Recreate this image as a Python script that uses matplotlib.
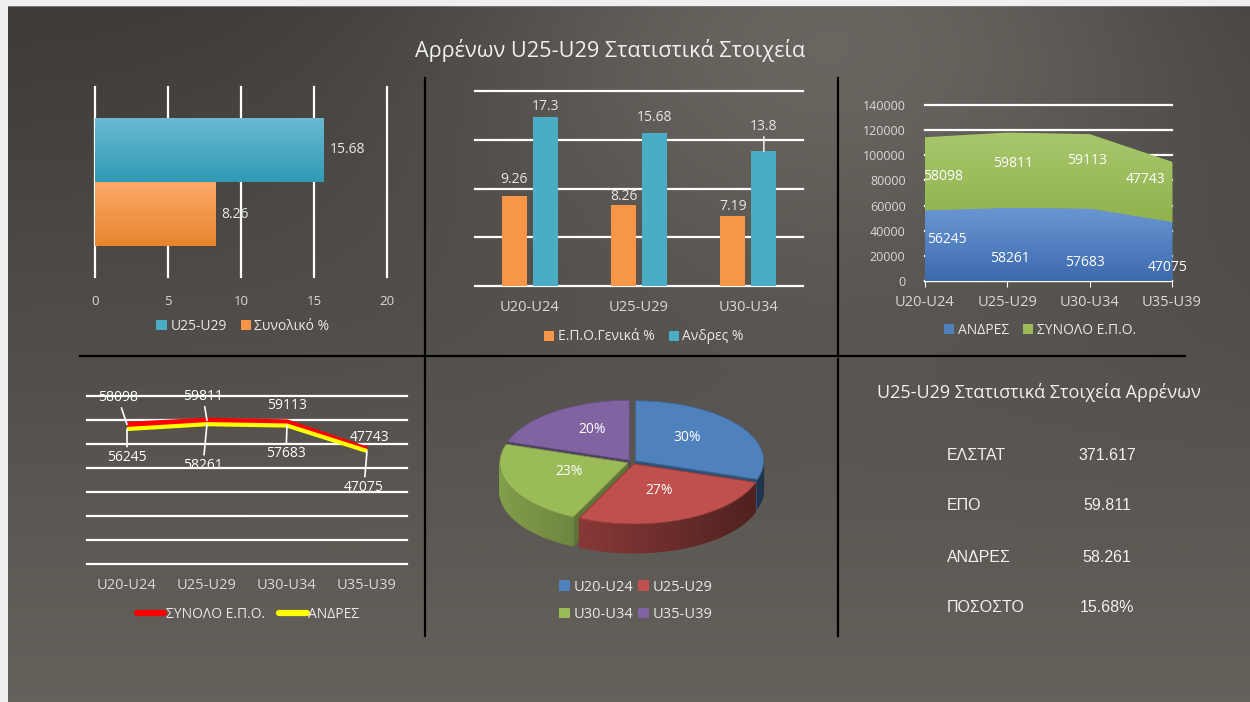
import numpy as np
import matplotlib
matplotlib.use("Agg")
import matplotlib.pyplot as plt
from matplotlib.patches import Patch, Polygon
from matplotlib.lines import Line2D

plt.rcParams['font.family'] = ['Open Sans', 'DejaVu Sans']

# ---------------- data ----------------
title = "Αρρένων U25-U29 Στατιστικά Στοιχεία"

# chart 1 (horizontal bars)
c1_series = ["U25-U29", "Συνολικό %"]
c1_values = [15.68, 8.26]

# chart 2 (grouped columns)
c2_categories = ["U20-U24", "U25-U29", "U30-U34"]
c2_series = ["Ε.Π.Ο.Γενικά %", "Ανδρες %"]
c2_epo = [9.26, 8.26, 7.19]
c2_andres = [17.3, 15.68, 13.8]

# chart 3 (stacked area) & chart 4 (lines)
age_groups = ["U20-U24", "U25-U29", "U30-U34", "U35-U39"]
andres = [56245, 58261, 57683, 47075]
synolo_epo = [58098, 59811, 59113, 47743]
c3_series = ["ΑΝΔΡΕΣ", "ΣΥΝΟΛΟ Ε.Π.Ο."]
c4_series = ["ΣΥΝΟΛΟ Ε.Π.Ο.", "ΑΝΔΡΕΣ"]

# chart 5 (pie)
pie_labels = ["U20-U24", "U25-U29", "U30-U34", "U35-U39"]
pie_values = [30, 27, 23, 20]

# panel 6 (table)
t6_title = "U25-U29 Στατιστικά Στοιχεία Αρρένων"
t6_labels = ["ΕΛΣΤΑΤ", "ΕΠΟ", "ΑΝΔΡΕΣ", "ΠΟΣΟΣΤΟ"]
t6_values = ["371.617", "59.811", "58.261", "15.68%"]

# ---------------- styling ----------------
W, H = 1250, 702
TXT = "#e8e8e8"
TICK = "#d9d9d9"
AQUA = "#4bacc6"
ORANGE = "#f79646"
BLUE = "#4f81bd"
RED = "#c0504d"
GREEN = "#9bbb59"
PURPLE = "#8064a2"

fig = plt.figure(figsize=(12.5, 7.02), dpi=100)

# background
bg = fig.add_axes([0, 0, 1, 1])
bg.set_axis_off()
yy, xx = np.mgrid[0:H, 0:W]
L = 0.24 + 0.16 * (yy / H) + 0.17 * np.exp(-(((xx - 830) / 380.0) ** 2 + (yy / 260.0) ** 2))
img = np.dstack([L * 1.0, L * 0.955, L * 0.9])
img[:6, :, :] = 0.94
img[:, :8, :] = 0.94
img[6, 8:, :] = 0.47
bg.imshow(np.clip(img, 0, 1), extent=[0, W, H, 0], aspect='auto', interpolation='bilinear')
bg.set_xlim(0, W)
bg.set_ylim(H, 0)

# divider lines
bg.plot([425, 425], [78, 636], color="black", lw=1.6)
bg.plot([838, 838], [78, 354], color="black", lw=1.6)
bg.plot([838, 838], [359, 636], color="black", lw=1.6)
bg.plot([80, 1185], [356, 356], color="black", lw=1.6)

bg.text(610, 51, title, ha="center", va="center", fontsize=15.6, color="#f0f0f0")


def axes_px(x0, y0, x1, y1):
    ax = fig.add_axes([x0 / W, 1 - y1 / H, (x1 - x0) / W, (y1 - y0) / H])
    ax.patch.set_alpha(0)
    for s in ax.spines.values():
        s.set_visible(False)
    return ax


def legend_px(handles, labels, x, y, **kw):
    opts = dict(loc="center", bbox_to_anchor=(x / W, 1 - y / H), frameon=False,
                fontsize=10, labelcolor=TXT, handletextpad=0.25, borderaxespad=0,
                borderpad=0)
    opts.update(kw)
    return fig.legend(handles, labels, **opts)


def gradient_patch(ax, patch, ctop, cbot, zorder=3):
    x, y = patch.get_x(), patch.get_y()
    w, h = patch.get_width(), patch.get_height()
    c0 = np.array(matplotlib.colors.to_rgb(ctop))
    c1 = np.array(matplotlib.colors.to_rgb(cbot))
    t = np.linspace(0, 1, 64)[:, None]
    grad = (c0 * (1 - t) + c1 * t)[:, None, :]
    im = ax.imshow(grad, extent=[x, x + w, y, y + h], origin="upper",
                   aspect="auto", zorder=zorder, interpolation="bilinear")
    im.set_clip_path(patch)


# ---------------- chart 1 ----------------
ax1 = axes_px(95, 87, 387, 277)
ax1.set_xlim(0, 20)
ax1.set_ylim(-1, 1)
ax1.set_xticks([0, 5, 10, 15, 20])
ax1.set_yticks([])
ax1.grid(axis="x", color="white", lw=1.6)
for gl in ax1.get_xgridlines():
    gl.set_clip_on(False)
ax1.set_axisbelow(True)
ax1.tick_params(length=0, labelcolor=TICK, labelsize=9.5, pad=13)
bh = 0.674
c1_colors = [(AQUA, "#6bbad3", "#2f9bb6"), (ORANGE, "#fba96a", "#e7852c")]
for i, (v, (c, ct, cb)) in enumerate(zip(c1_values, c1_colors)):
    yc = bh / 2 if i == 0 else -bh / 2
    rect = ax1.barh([yc], [v], height=bh, color=c, zorder=2)[0]
    gradient_patch(ax1, rect, ct, cb)
    ax1.annotate(str(v), xy=(v, yc), xytext=(6, 0), textcoords="offset pixels",
                 ha="left", va="center", fontsize=10, color=TXT)
legend_px([Patch(facecolor=AQUA), Patch(facecolor=ORANGE)], c1_series, 243, 326,
          ncol=2, handlelength=0.75, handleheight=0.75, columnspacing=1.0)

# ---------------- chart 2 ----------------
ax2 = axes_px(475, 91, 803, 286)
ax2.set_ylim(0, 20)
ax2.set_xlim(-0.5, 2.5)
ax2.set_yticks([0, 5, 10, 15, 20])
ax2.set_yticklabels([])
ax2.grid(axis="y", color="white", lw=1.6)
for gl in ax2.get_ygridlines():
    gl.set_clip_on(False)
ax2.set_axisbelow(True)
x2 = np.arange(len(c2_categories))
ax2.set_xticks(x2)
ax2.set_xticklabels(c2_categories)
ax2.tick_params(length=0, labelcolor=TICK, labelsize=10.5, pad=10)
bw, off = 0.23, 0.142
lab_off_epo = [16, 9, 9]
lab_off_and = [11, 16, 25]
ax2.bar(x2 - off, c2_epo, width=bw, color=ORANGE, zorder=2)
ax2.bar(x2 + off, c2_andres, width=bw, color=AQUA, zorder=2)
for xs, vals, offs in [(x2 - off, c2_epo, lab_off_epo), (x2 + off, c2_andres, lab_off_and)]:
    for xv, v, o in zip(xs, vals, offs):
        ap = dict(arrowstyle="-", color="white", lw=1, shrinkA=0, shrinkB=0) if o > 20 else None
        ax2.annotate(str(v), xy=(xv, v), xytext=(0, o), textcoords="offset pixels",
                     ha="center", va="center", fontsize=10, color=TXT, arrowprops=ap)
legend_px([Patch(facecolor=ORANGE), Patch(facecolor=AQUA)], c2_series, 644, 337,
          ncol=2, handlelength=0.75, handleheight=0.75, columnspacing=1.0)

# ---------------- chart 3 ----------------
ax3 = axes_px(925, 105, 1172, 281)
ax3.set_ylim(0, 140000)
ax3.set_xlim(0, 3)
ax3.set_yticks(np.arange(0, 140001, 20000))
ax3.grid(axis="y", color="white", lw=1.6)
for gl in ax3.get_ygridlines():
    gl.set_clip_on(False)
ax3.set_axisbelow(True)
x3 = np.arange(len(age_groups))
ax3.set_xticks(x3)
ax3.set_xticklabels(age_groups)
ax3.spines["bottom"].set_visible(True)
ax3.spines["bottom"].set_color("white")
ax3.spines["bottom"].set_linewidth(1.6)
ax3.tick_params(axis="x", length=4, color="white", labelcolor=TICK, labelsize=10.5, pad=6)
ax3.tick_params(axis="y", length=0, labelcolor=TICK, labelsize=9, pad=14)
a = np.array(andres)
s = np.array(synolo_epo)
f1 = ax3.fill_between(x3, 0, a, color=BLUE, lw=0, zorder=2)
f2 = ax3.fill_between(x3, a, a + s, color=GREEN, lw=0, zorder=2)
for fc, ctop, cbot in [(f1, "#6a97d3", "#3c6aae"), (f2, "#a8c76c", "#92b24f")]:
    t = np.linspace(0, 1, 64)[:, None]
    c0 = np.array(matplotlib.colors.to_rgb(ctop))
    c1 = np.array(matplotlib.colors.to_rgb(cbot))
    grad = (c0 * (1 - t) + c1 * t)[:, None, :]
    ext = fc.get_paths()[0].get_extents()
    im = ax3.imshow(grad, extent=[0, 3, ext.y0, ext.y1], origin="upper", aspect="auto",
                    zorder=3, interpolation="bilinear")
    im.set_clip_path(fc.get_paths()[0], ax3.transData)
ax3.set_ylim(0, 140000)
ax3.set_xlim(0, 3)
g_dx = [18, 6, -3, -26]
g_dy = [3, -7, -11, -12]
b_dx = [22, 3, -5, -4]
b_dy = [-6, 14, 18, 16]
for i in range(len(age_groups)):
    ax3.annotate(str(synolo_epo[i]), xy=(x3[i], a[i] + s[i] / 2), xytext=(g_dx[i], -g_dy[i]),
                 textcoords="offset pixels", ha="center", va="center", fontsize=10,
                 color="white", zorder=5)
    ax3.annotate(str(andres[i]), xy=(x3[i], a[i] / 2), xytext=(b_dx[i], -b_dy[i]),
                 textcoords="offset pixels", ha="center", va="center", fontsize=10,
                 color="white", zorder=5)
legend_px([Patch(facecolor=BLUE), Patch(facecolor=GREEN)], c3_series, 1040, 330,
          ncol=2, handlelength=0.75, handleheight=0.75, columnspacing=1.0)

# ---------------- chart 4 ----------------
ax4 = axes_px(87, 396, 407, 564)
ax4.set_ylim(0, 70000)
ax4.set_xlim(-0.5, 3.5)
ax4.set_yticks(np.arange(0, 70001, 10000))
ax4.set_yticklabels([])
ax4.grid(axis="y", color="white", lw=1.6)
for gl in ax4.get_ygridlines():
    gl.set_clip_on(False)
ax4.set_axisbelow(True)
x4 = np.arange(len(age_groups))
ax4.set_xticks(x4)
ax4.set_xticklabels(age_groups)
ax4.tick_params(length=0, labelcolor=TICK, labelsize=10.5, pad=10)
ax4.plot(x4, synolo_epo, color="#ff0000", lw=4.0, zorder=3, solid_capstyle="butt")
ax4.plot(x4, andres, color="#ffff00", lw=3.0, zorder=4, solid_capstyle="butt")
r_off = [(-9, -27), (-4, -24), (0, -17), (3, -12)]
y_off = [(0, 28), (-4, 41), (-1, 28), (-3, 36)]
for i in range(len(age_groups)):
    for vals, offs in [(synolo_epo, r_off), (andres, y_off)]:
        dx, dy = offs[i]
        ap = dict(arrowstyle="-", color="white", lw=1.2, shrinkA=0, shrinkB=0) if abs(dy) > 20 else None
        ax4.annotate(str(vals[i]), xy=(x4[i], vals[i]), xytext=(dx, -dy),
                     textcoords="offset pixels", ha="center", va="center",
                     fontsize=10, color="white", arrowprops=ap, zorder=5)
legend_px([Line2D([], [], color="#ff0000", lw=4.5, solid_capstyle="round"),
           Line2D([], [], color="#ffff00", lw=4.5, solid_capstyle="round")],
          c4_series, 248, 614, ncol=2, handlelength=2.0, columnspacing=1.0, handletextpad=0.1)

# ---------------- chart 5 (3D pie) ----------------
ax5 = axes_px(470, 375, 800, 585)
ax5.set_xlim(470, 800)
ax5.set_ylim(585, 375)
ax5.set_axis_off()
cx, cy, rx, ry, depth = 632, 462, 128, 60, 29
expl = 0.035
pie_colors = [BLUE, RED, GREEN, PURPLE]
fr = np.array(pie_values, dtype=float) / np.sum(pie_values)
cum = np.concatenate([[0], np.cumsum(fr)])


def darker(c, f):
    return tuple(np.clip(np.array(matplotlib.colors.to_rgb(c)) * f, 0, 1))


sides = []
tops = []
for i in range(len(pie_values)):
    t0 = 90 - 360 * cum[i]
    t1 = 90 - 360 * cum[i + 1]
    mid = np.radians((t0 + t1) / 2)
    ox = expl * rx * np.cos(mid)
    oy = -expl * ry * np.sin(mid)
    th = np.radians(np.linspace(t0, t1, 200))
    px = cx + ox + rx * np.cos(th)
    py = cy + oy - ry * np.sin(th)
    C = (cx + ox, cy + oy)
    tops.append((np.vstack([[C], np.column_stack([px, py])]), pie_colors[i], mid, ox, oy))
    # walls
    for k in [0, -1]:
        quad = np.array([C, (px[k], py[k]), (px[k], py[k] + depth), (C[0], C[1] + depth)])
        sides.append((quad[:, 1].mean(), quad, darker(pie_colors[i], 0.62)))
    # outer side as thin strips
    front = np.sin(th) < 0
    idx = np.where(front)[0]
    for j in idx[:-1]:
        if not front[j + 1]:
            continue
        quad = np.array([(px[j], py[j]), (px[j + 1], py[j + 1]),
                         (px[j + 1], py[j + 1] + depth), (px[j], py[j] + depth)])
        f = 0.62 - 0.22 * np.cos(th[j])
        sides.append((quad[:, 1].mean() + depth, quad, darker(pie_colors[i], f)))
sides.sort(key=lambda z: z[0])
for _, q, c in sides:
    ax5.add_patch(Polygon(q, closed=True, facecolor=c, edgecolor=c, lw=0.6))
for poly, c, mid, ox, oy in tops:
    ax5.add_patch(Polygon(poly, closed=True, facecolor=c, edgecolor=darker(c, 0.8), lw=0.6))
for (poly, c, mid, ox, oy), v in zip(tops, pie_values):
    lx = cx + ox + 0.5 * rx * np.cos(mid)
    ly = cy + oy - 0.55 * ry * np.sin(mid) - 4
    ax5.text(lx, ly, f"{v}%", ha="center", va="center", fontsize=10, color="white")

order = [0, 2, 1, 3]
legend_px([Patch(facecolor=pie_colors[k]) for k in order], [pie_labels[k] for k in order],
          636, 601, ncol=2, handlelength=0.75, handleheight=0.75, columnspacing=0.3,
          labelspacing=0.85, fontsize=10.5)

# ---------------- panel 6 ----------------
bg.text(1039, 393, t6_title, ha="center", va="center", fontsize=13, color="#f0f0f0")
for i, (lab, val) in enumerate(zip(t6_labels, t6_values)):
    yv = 455 + i * 51
    bg.text(947, yv, lab, ha="left", va="center", fontsize=11.5, color="#f2f2f2",
            family=["Liberation Sans", "DejaVu Sans"])
    bg.text(1107, yv, val, ha="center", va="center", fontsize=11.5, color="#f2f2f2",
            family=["Liberation Sans", "DejaVu Sans"])

fig.savefig("out.png", dpi=100)
